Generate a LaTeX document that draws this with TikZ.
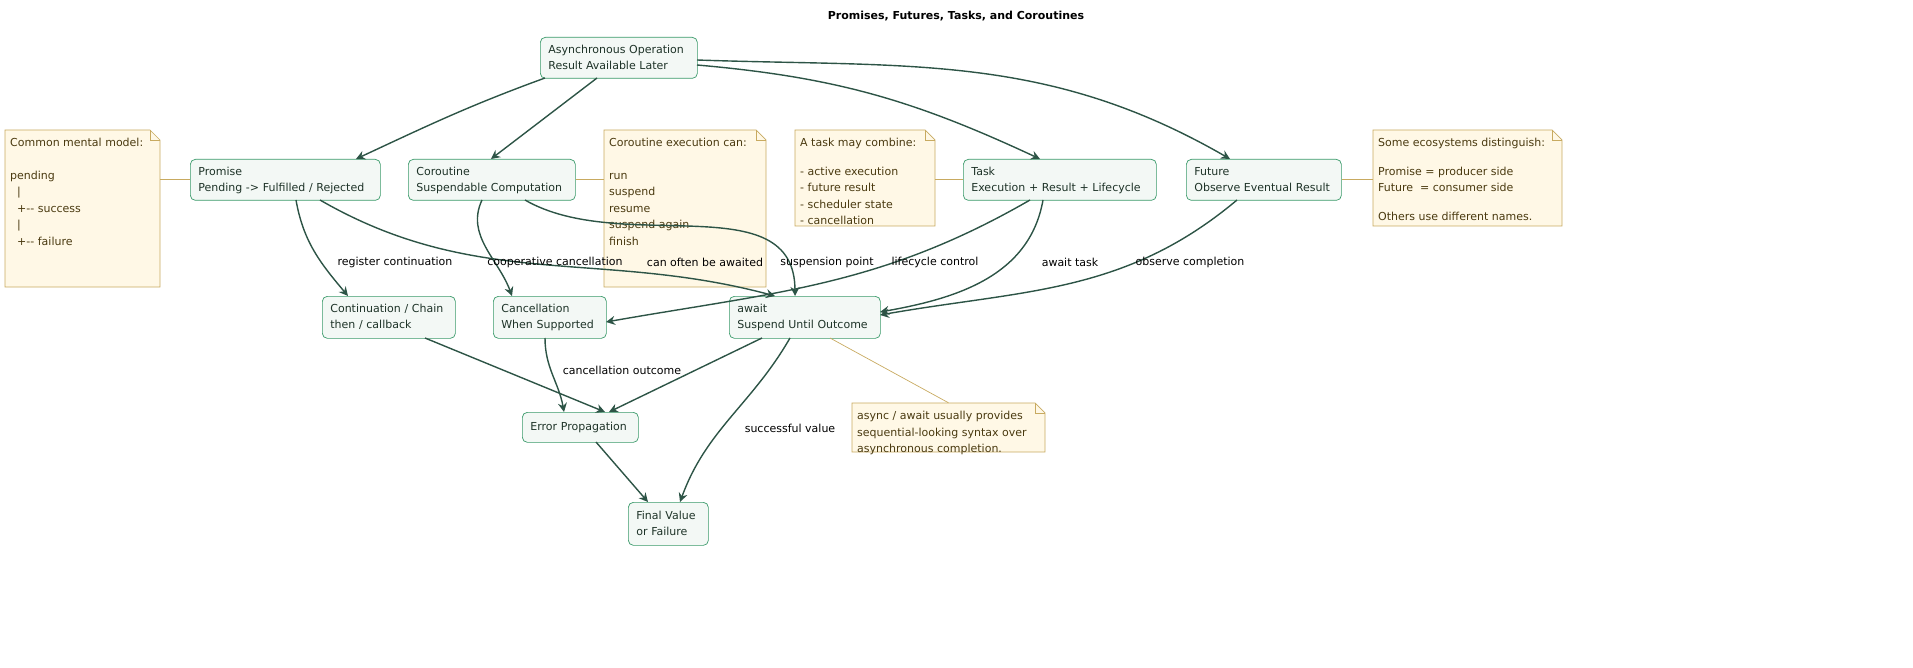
\documentclass[tikz,border=0pt]{standalone}
\usepackage{fontspec}
\setmainfont{DejaVu Sans}
\usetikzlibrary{arrows.meta}
\definecolor{bfill}{HTML}{F3F8F5}
\definecolor{bdraw}{HTML}{3A9A6A}
\definecolor{arr}{HTML}{2D5446}
\definecolor{nfill}{HTML}{FFF8E6}
\definecolor{ndraw}{HTML}{C8AA60}
\definecolor{ntext}{HTML}{4A3A10}
\definecolor{btext}{HTML}{1E3328}
\newcommand\mynote[6]{%
  \draw[ndraw,fill=nfill,line width=0.7pt] (#2,#3)--(#4-10,#3)--(#4,#3+10)--(#4,#5)--(#2,#5)--cycle;
  \draw[ndraw,line width=0.7pt] (#4-10,#3)--(#4-10,#3+10)--(#4,#3+10);
  \node[inner sep=0,minimum width=#4-#2,minimum height=#5-#3] (#1) at ({(#2+#4)/2},{(#3+#5)/2}) {};
  \node[anchor=north west,inner sep=0,align=left,text=ntext,font=\fontsize{11}{16.5}\selectfont] at (#2+5,#3+8) {#6};}
\tikzset{
 box/.style={draw=bdraw,fill=bfill,rounded corners=5pt,line width=0.7pt,text=btext,align=left,anchor=north west,inner xsep=5pt,inner ysep=0pt,font=\fontsize{11}{16}\selectfont},
 ar/.style={draw=arr,line width=1.4pt,-{Stealth[length=9pt,width=9pt,inset=3pt]}},
 lab/.style={font=\fontsize{11}{14}\selectfont,text=black,fill=none,inner sep=1pt},
 nl/.style={draw=ndraw,line width=0.7pt}
}
\begin{document}
\begin{tikzpicture}[x=1pt,y=-1pt]
\useasboundingbox (0,0) rectangle (1913,668);
\node[font=\bfseries\fontsize{11}{14}\selectfont] (title) at (956,16) {Promises, Futures, Tasks, and Coroutines};
\newcommand\bx[6]{\node[box,minimum width=#4-#2,minimum height=#5-#3,text width=#4-#2-10] (#1) at (#2,#3) {\hspace*{3pt}\begin{tabular}{@{}l@{}}#6\end{tabular}};}
\bx{async}{540}{37}{697}{78}{Asynchronous Operation\\Result Available Later}
\bx{prom}{190}{159}{380}{200}{Promise\\Pending -> Fulfilled / Rejected}
\bx{coro}{408}{159}{575}{200}{Coroutine\\Suspendable Computation}
\bx{task}{963}{159}{1156}{200}{Task\\Execution + Result + Lifecycle}
\bx{fut}{1186}{159}{1341}{200}{Future\\Observe Eventual Result}
\bx{cont}{322}{296}{455}{338}{Continuation / Chain\\then / callback}
\bx{canc}{493}{296}{606}{338}{Cancellation\\When Supported}
\bx{await}{729}{296}{880}{338}{await\\Suspend Until Outcome}
\bx{err}{522}{412}{638}{442}{Error Propagation}
\bx{fin}{628}{502}{708}{545}{Final Value\\or Failure}
\mynote{n1}{5}{130}{160}{287}{Common mental model:\\[16pt]pending\\\ \ |\\\ \ +{-}{-} success\\\ \ |\\\ \ +{-}{-} failure}
\mynote{n2}{604}{130}{766}{287}{Coroutine execution can:\\[16pt]run\\suspend\\resume\\suspend again\\finish}
\mynote{n3}{795}{130}{935}{226}{A task may combine:\\[12pt]- active execution\\- future result\\- scheduler state\\- cancellation}
\mynote{n4}{1373}{130}{1562}{226}{Some ecosystems distinguish:\\[12pt]Promise = producer side\\Future\ \ = consumer side\\[12pt]Others use different names.}
\mynote{n5}{852}{403}{1045}{452}{async / await usually provides\\sequential-looking syntax over\\asynchronous completion.}
\draw[nl] (n1.east|-prom.west) -- (prom.west);
\draw[nl] (coro.east) -- (n2.west|-coro.east);
\draw[nl] (n3.east|-task.west) -- (task.west);
\draw[nl] (fut.east) -- (n4.west|-fut.east);
\draw[nl] (830,338) -- (n5.north);
\draw[ar] (545,78) to[out=-160,in=25] (356,159);
\draw[ar] (597,78) -- (491,159);
\draw[ar] (697,65) to[out=-5,in=155] (1040,159);
\draw[ar] (697,60) to[out=-2,in=150] (1230,159);
\draw[ar] (296,200) to[out=-80,in=130] (348,296);
\draw[ar] (320,200) to[out=-30,in=165] (775,296);
\draw[ar] (482,200) to[out=-115,in=110] (512,296);
\draw[ar] (525,200) to[out=-30,in=90] (795,296);
\draw[ar] (1030,200) to[out=-150,in=10] (606,322);
\draw[ar] (1043,200) to[out=-100,in=10] (880,312);
\draw[ar] (1237,200) to[out=-140,in=10] (880,315);
\draw[ar] (425,338) -- (605,412);
\draw[ar] (545,338) to[out=-90,in=100] (564,412);
\draw[ar] (762,338) -- (609,412);
\draw[ar] (790,338) to[out=-120,in=70] (680,502);
\draw[ar] (596,442) -- (648,502);
\node[lab] at (395,262) {register continuation};
\node[lab] at (555,262) {cooperative cancellation};
\node[lab] at (705,262) {can often be awaited};
\node[lab] at (827,262) {suspension point};
\node[lab] at (935,262) {lifecycle control};
\node[lab] at (1070,262) {await task};
\node[lab] at (1190,262) {observe completion};
\node[lab] at (622,370) {cancellation outcome};
\node[lab] at (790,428) {successful value};
\end{tikzpicture}
\end{document}
